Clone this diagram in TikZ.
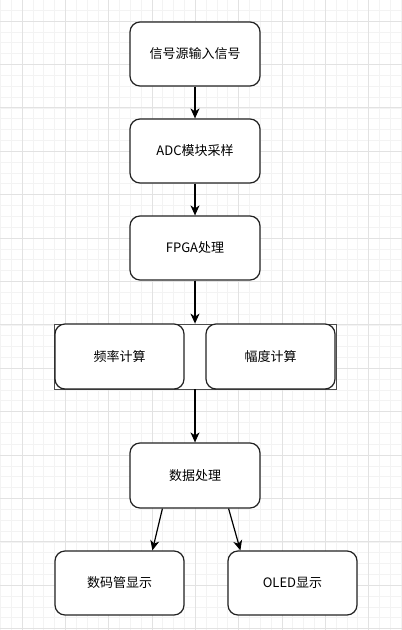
\documentclass[tikz,border=0pt]{standalone}
\usepackage{fontspec}
\setmainfont{Noto Sans CJK SC}
\usetikzlibrary{arrows.meta}
\definecolor{minorgrid}{HTML}{F3F3F3}
\definecolor{majorgrid}{HTML}{E2E2E2}
\definecolor{boxline}{HTML}{222222}
\tikzset{
  box/.style={draw=boxline, line width=1.2pt, fill=white, rounded corners=10pt,
    minimum width=130pt, minimum height=64pt, inner sep=0pt, font=\fontsize{13}{15}\selectfont},
  smallbox/.style={box, minimum width=129pt, minimum height=65pt},
  arr/.style={draw=black, line width=1.2pt, -{Stealth[length=10pt,width=9pt,inset=3pt]}},
  groupbox/.style={draw=black!70, line width=0.8pt, fill=white, minimum width=282pt, minimum height=65pt, inner sep=0pt}
}
\begin{document}
\begin{tikzpicture}[x=1pt,y=-1pt]
\useasboundingbox (0,0) rectangle (402,630);
\fill[white] (0,0) rectangle (402,630);
% grid
\foreach \i in {0,...,37} {
  \draw[minorgrid, line width=0.6pt] (0.33+\i*10.83,0) -- (0.33+\i*10.83,630);
}
\foreach \i in {0,...,58} {
  \draw[minorgrid, line width=0.6pt] (0,-0.66+\i*10.85) -- (402,-0.66+\i*10.85);
}
\foreach \i in {0,...,9} {
  \draw[majorgrid, line width=0.7pt] (22+\i*43.32,0) -- (22+\i*43.32,630);
}
\foreach \i in {0,...,14} {
  \draw[majorgrid, line width=0.7pt] (0,21+\i*43.4) -- (402,21+\i*43.4);
}
% nodes
\node[box] (src) at (195,54) {信号源输入信号};
\node[box] (adc) at (195,151) {ADC模块采样};
\node[box] (fpga) at (195,248) {FPGA处理};
\node[groupbox] (grp) at (195,356.5) {};
\node[smallbox] (freq) at (119.5,356.5) {频率计算};
\node[smallbox] (amp) at (270.5,356.5) {幅度计算};
\node[box, minimum height=65pt] (data) at (195,475.5) {数据处理};
\node[smallbox, minimum height=64pt] (seg) at (119.5,583) {数码管显示};
\node[smallbox, minimum height=64pt] (oled) at (292.5,583) {OLED显示};
% connectors
\draw[arr] (src.south) -- (adc.north);
\draw[arr] (adc.south) -- (fpga.north);
\draw[arr] (fpga.south) -- (grp.north);
\draw[arr] (grp.south) -- (data.north);
\draw[arr] ([xshift=33pt]data.south west) -- ([xshift=98pt]seg.north west);
\draw[arr] ([xshift=-32pt]data.south east) -- ([xshift=13pt]oled.north west);
\end{tikzpicture}
\end{document}
